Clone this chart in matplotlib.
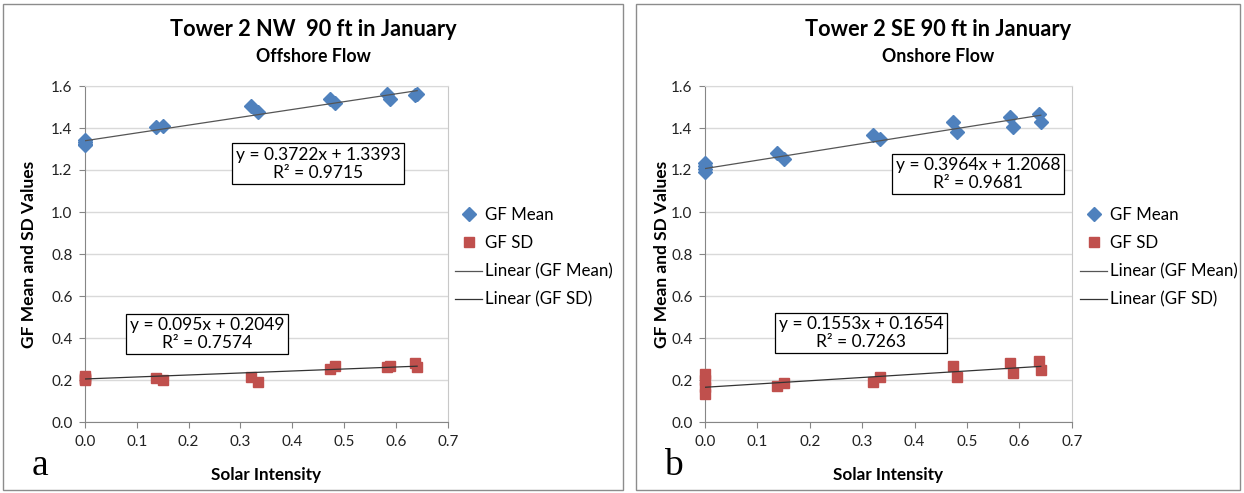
import numpy as np
import matplotlib
matplotlib.use("Agg")
import matplotlib.pyplot as plt
from matplotlib.patches import Rectangle

# solar intensity (same sample times for both towers)
solar = [0.0, 0.0, 0.0, 0.0, 0.137, 0.150, 0.321, 0.334, 0.473, 0.482, 0.582, 0.588, 0.637, 0.641]

# Tower 2 NW, offshore flow
nw_mean = [1.345, 1.335, 1.325, 1.320, 1.406, 1.411, 1.505, 1.475, 1.538, 1.518, 1.562, 1.537, 1.557, 1.560]
nw_sd = [0.220, 0.210, 0.200, 0.205, 0.208, 0.200, 0.213, 0.192, 0.251, 0.268, 0.263, 0.265, 0.282, 0.260]
nw_fit_mean = (0.3722, 1.3393, 0.9715)
nw_fit_sd = (0.095, 0.2049, 0.7574)

# Tower 2 SE, onshore flow
se_mean = [1.235, 1.220, 1.205, 1.190, 1.279, 1.252, 1.365, 1.346, 1.430, 1.381, 1.454, 1.406, 1.467, 1.430]
se_sd = [0.230, 0.200, 0.165, 0.135, 0.171, 0.184, 0.192, 0.213, 0.267, 0.216, 0.280, 0.235, 0.290, 0.250]
se_fit_mean = (0.3964, 1.2068, 0.9681)
se_fit_sd = (0.1553, 0.1654, 0.7263)

W, H = 1244, 493
FONT = ["Lato", "DejaVu Sans"]
plt.rcParams["font.family"] = FONT

fig = plt.figure(figsize=(W / 100, H / 100), dpi=100)


def eq_text(fit):
    a, b, r2 = fit
    return "y = %gx + %g\nR\u00b2 = %g" % (a, b, r2)


def panel(left_px, right_px, chart_l, chart_r, title, subtitle, letter,
          mean, sd, fit_m, fit_s, box_m, box_s, leg_x):
    ax = fig.add_axes([left_px / W, 1 - 422 / H, (right_px - left_px) / W, (422 - 86) / H])
    x = np.array(solar)
    ax.plot(x, mean, "D", color="#4F81BD", ms=7.5, ls="none", label="GF Mean", zorder=3, clip_on=False)
    ax.plot(x, sd, "s", color="#C0504D", ms=6.5, ls="none", label="GF SD", zorder=3, clip_on=False)
    xs = np.array([x.min(), x.max()])
    ax.plot(xs, fit_m[0] * xs + fit_m[1], color="#555555", lw=0.9, label="Linear (GF Mean)", zorder=4)
    ax.plot(xs, fit_s[0] * xs + fit_s[1], color="#333333", lw=0.9, label="Linear (GF SD)", zorder=4)

    ax.set_xlim(0, 0.7)
    ax.set_ylim(0, 1.6)
    ax.set_xticks(np.arange(0, 0.71, 0.1))
    ax.set_yticks(np.arange(0, 1.61, 0.2))
    ax.xaxis.set_major_formatter(matplotlib.ticker.FormatStrFormatter("%.1f"))
    ax.yaxis.set_major_formatter(matplotlib.ticker.FormatStrFormatter("%.1f"))
    ax.tick_params(direction="out", length=4, color="#868686", labelsize=11, pad=5,
                   labelcolor="#222222")
    ax.grid(axis="y", color="#d9d9d9", lw=1)
    ax.set_axisbelow(True)
    for s in ["left", "bottom"]:
        ax.spines[s].set_color("#868686")
    ax.spines["top"].set_color("#d9d9d9")
    ax.spines["right"].set_color("#c8c8c8")

    ax.set_xlabel("Solar Intensity", fontsize=12.3, fontweight="bold")
    ax.xaxis.set_label_coords(0.5, -0.134)
    ax.set_ylabel("GF Mean and SD Values", fontsize=12.5, fontweight="bold")
    ax.yaxis.set_label_coords((37 + chart_l - 3 - left_px) / (right_px - left_px), 0.5)

    bb = dict(boxstyle="square,pad=0.2", fc="white", ec="black", lw=0.9)
    ax.text(box_m[0], box_m[1], eq_text(fit_m), ha="center", va="center",
            multialignment="center", fontsize=12.5, bbox=bb, zorder=5, linespacing=1.15)
    ax.text(box_s[0], box_s[1], eq_text(fit_s), ha="center", va="center",
            multialignment="center", fontsize=12.5, bbox=bb, zorder=5, linespacing=1.15)

    ax.legend(loc="upper left", bbox_to_anchor=(leg_x / W, 1 - 207 / H),
              bbox_transform=fig.transFigure, frameon=False, fontsize=12.2,
              handlelength=1.6, handletextpad=0.15, labelspacing=0.72,
              borderaxespad=0, borderpad=0, numpoints=1)

    cx = (chart_l + chart_r) / 2
    fig.text(cx / W, 1 - 30 / H, title, ha="center", va="center", fontsize=15.7, fontweight="bold")
    fig.text(cx / W, 1 - 57 / H, subtitle, ha="center", va="center", fontsize=12.8, fontweight="bold")
    fig.text((chart_l + 37) / W, 1 - 466 / H, letter, ha="center", va="center",
             family="Liberation Serif", fontsize=27)
    fig.add_artist(Rectangle((chart_l / W, 1 - 490 / H), (chart_r - chart_l) / W, 486 / H,
                             transform=fig.transFigure, fill=False, ec="#8c8c8c", lw=1))
    return ax


panel(85, 447.7, 3, 623, "Tower 2 NW  90 ft in January", "Offshore Flow", "a",
      nw_mean, nw_sd, nw_fit_mean, nw_fit_sd, (0.45, 1.229), (0.2355, 0.419), 455)
panel(705, 1071.7, 636, 1240, "Tower 2 SE 90 ft in January", "Onshore Flow", "b",
      se_mean, se_sd, se_fit_mean, se_fit_sd, (0.521, 1.181), (0.298, 0.424), 1080)

fig.savefig("out.png", dpi=100)
